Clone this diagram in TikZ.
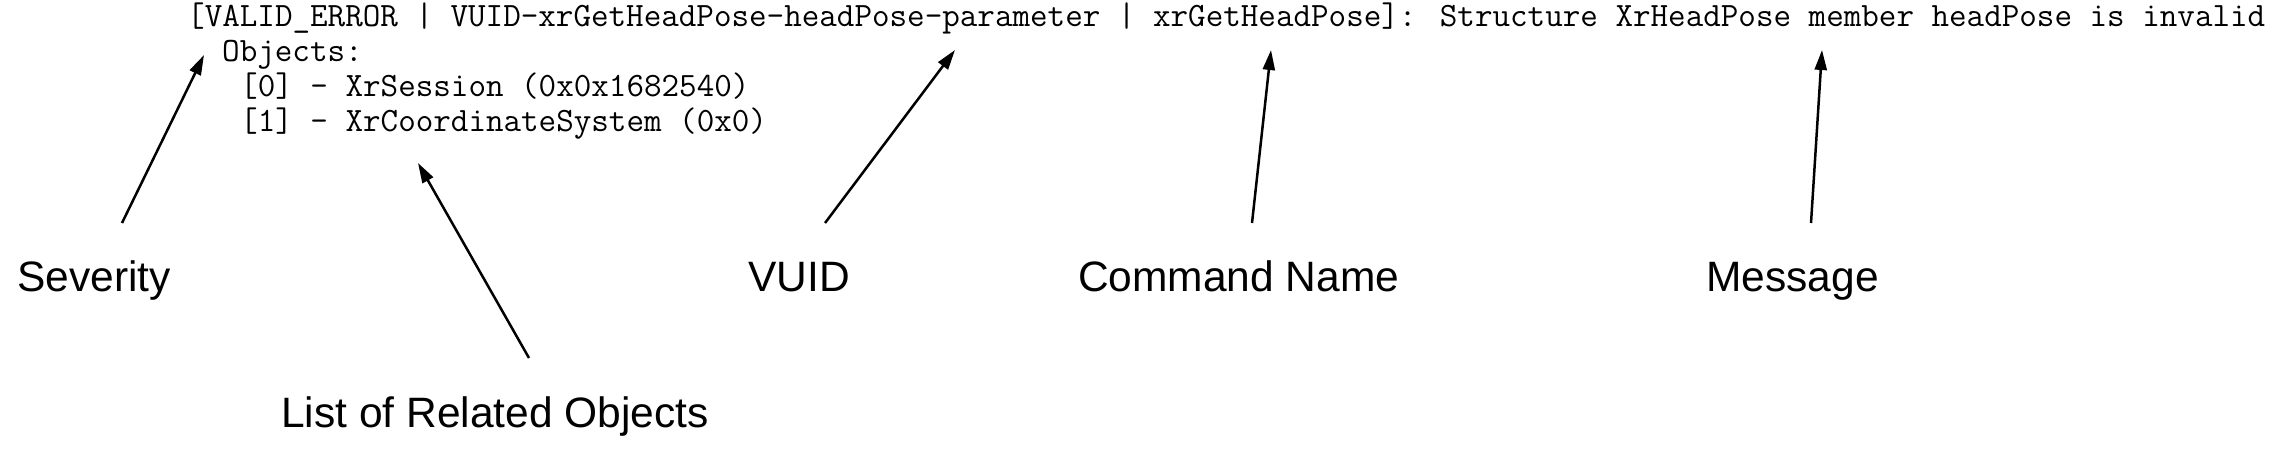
\documentclass[tikz,border=0pt]{standalone}
\usepackage{fontspec}
\setmainfont{Liberation Sans}
\usetikzlibrary{arrows.meta}
\begin{document}
\begin{tikzpicture}[x=1pt,y=-1pt,
  code/.style={anchor=base west,inner sep=0pt,font=\ttfamily\fontsize{34.1}{36}\selectfont},
  lbl/.style={anchor=base west,inner sep=0pt,font=\fontsize{42.5}{50}\selectfont},
  pointer/.style={line width=2.5pt,-{Triangle[length=20pt,width=12pt]}}]
\useasboundingbox (0,0) rectangle (2285,457);
\node[code] (l1) at (187,27) {[VALID\_ERROR | VUID-xrGetHeadPose-headPose-parameter | xrGetHeadPose]: Structure XrHeadPose member headPose is invalid};
\node[code] (l2) at (222,62) {Objects:};
\node[code] (l3) at (240,97) {[0] - XrSession (0x0x1682540)};
\node[code] (l4) at (240,132) {[1] - XrCoordinateSystem (0x0)};
\node[lbl] (sev) at (17,291) {Severity};
\node[lbl] (vuid) at (748,291) {VUID};
\node[lbl] (cmd) at (1078,291) {Command Name};
\node[lbl] (msg) at (1706,291) {Message};
\node[lbl] (list) at (281,427) {List of Related Objects};
\coordinate (sevT) at (122,223);
\coordinate (sevH) at (204,55);
\coordinate (listT) at (529,358);
\coordinate (listH) at (418,163);
\coordinate (vuidT) at (825,223);
\coordinate (vuidH) at (955,50);
\coordinate (cmdT) at (1252,223);
\coordinate (cmdH) at (1271,50);
\coordinate (msgT) at (1811,223);
\coordinate (msgH) at (1822,50);
\draw[pointer] (sevT) -- (sevH);
\draw[pointer] (listT) -- (listH);
\draw[pointer] (vuidT) -- (vuidH);
\draw[pointer] (cmdT) -- (cmdH);
\draw[pointer] (msgT) -- (msgH);
\end{tikzpicture}
\end{document}
